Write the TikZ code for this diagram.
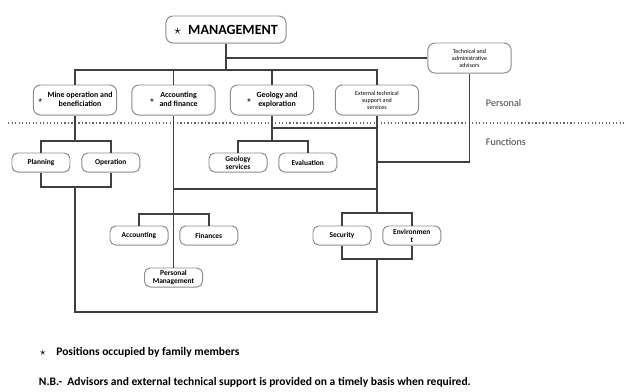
\documentclass[tikz,border=0pt]{standalone}
\usepackage{fontspec}
\setmainfont{Carlito}
\usetikzlibrary{positioning}
\newcommand{\starbox}[2]{$\star$\hspace{0.6em}\begin{tabular}{@{}c@{}}#1\\#2\end{tabular}}

\begin{document}
\begin{tikzpicture}[x=0.025cm,y=-0.025cm,node distance=0.27cm,
  box/.style={draw=black!45,line width=0.7pt,rounded corners=5pt,fill=white,align=center,inner sep=1pt},
  top/.style={box,minimum width=3cm,minimum height=0.675cm,font=\fontsize{10}{12}\selectfont\bfseries},
  unit/.style={box,minimum width=2.08cm,minimum height=0.75cm,font=\fontsize{5.6}{6.4}\selectfont\bfseries},
  task/.style={box,rounded corners=4pt,minimum width=1.45cm,minimum height=0.475cm,font=\fontsize{5.3}{5.8}\selectfont\bfseries},
  tiny/.style={font=\fontsize{4.3}{5}\selectfont},
  link/.style={draw=black!75,line width=1.1pt},
  side/.style={anchor=west,font=\fontsize{7.2}{8}\selectfont,text=black!75}]
  \useasboundingbox (0,0) rectangle (634,391);

  % personal
  \node[top] (mgmt) at (226,29.5) {$\star$\hspace{0.5em}MANAGEMENT};
  \node[unit,tiny] (adv) at (469.5,58) {Technical and\\administrative\\advisors};
  \node[unit] (mine) at (75,100) {\starbox{Mine operation and}{beneficiation}};
  \node[unit] (acct) at (173.5,100) {\starbox{Accounting}{and finance}};
  \node[unit] (geo) at (272,100) {\starbox{Geology and}{exploration}};
  \node[unit,tiny] (ext) at (377,100) {External technical\\support and\\services};

  \draw[dash pattern=on 0.9pt off 1.6pt,line width=1pt,black!60] (8,123) -- (625,123);
  \node[side] (personal) at (481,103) {Personal};
  \node[side] (functions) at (481,142) {Functions};

  % functions
  \node[task] (plan) at (41,162.5) {Planning};
  \node[task,right=of plan] (oper) {Operation};
  \node[task] (geoserv) at (238,162.5) {Geology\\services};
  \node[task,right=of geoserv] (eval) {Evaluation};
  \node[task] (accounting) at (139,235.5) {Accounting};
  \node[task,right=of accounting] (fin) {Finances};
  \node[task] (persmgmt) at (173.5,277.5) {Personal\\Management};
  \node[task] (sec) at (342,235.5) {Security};
  \node[task,right=of sec] (env) {Environmen\\t};

  \coordinate (bus) at (226,70);
  \coordinate (minej) at (75,141);
  \coordinate (planj) at (75,187);
  \coordinate (geoj) at (272,141);
  \coordinate (acctj) at (173.5,214);
  \coordinate (extj) at (377,213);
  \coordinate (secj) at (377,259);
  \coordinate (advj) at (377,162);
  \coordinate (geolink) at (377,128);
  \coordinate (midlink) at (377,189);
  \coordinate (base) at (377,312);

  \draw[link] (mgmt.south) -- (bus);
  \draw[link] (mine.north) |- (bus) -| (ext.north);
  \draw[link] (acct.north) -- (acct.north |- bus);
  \draw[link] (geo.north) -- (geo.north |- bus);
  \draw[link] (adv.west) -- (adv.west -| mgmt.south);
  \draw[link] (adv.south) |- (advj);
  \draw[link] (mine.south) -- (minej);
  \draw[link] (plan.north) |- (minej) -| (oper.north);
  \draw[link] (plan.south) |- (planj) -| (oper.south);
  \draw[link] (planj) |- (base) -- (secj);
  \draw[link] (acct.south) -- (persmgmt.north);
  \draw[link] (accounting.north) |- (acctj) -| (fin.north);
  \draw[link] (midlink) -- (midlink -| acct.south);
  \draw[link] (geo.south) -- (geoj);
  \draw[link] (geoserv.north) |- (geoj) -| (eval.north);
  \draw[link] (geo.south |- geolink) -- (geolink);
  \draw[link] (ext.south) -- (extj);
  \draw[link] (sec.north) |- (extj) -| (env.north);
  \draw[link] (sec.south) |- (secj) -| (env.south);

  % notes
  \node[anchor=west,font=\fontsize{8.2}{10}\selectfont\bfseries] (legend) at (35,352) {$\star$\hspace{0.9em}Positions occupied by family members};
  \node[anchor=west,font=\fontsize{8.2}{10}\selectfont\bfseries] (note) at (34,382) {N.B.-\ \ Advisors and external technical support is provided on a timely basis when required.};
\end{tikzpicture}
\end{document}
